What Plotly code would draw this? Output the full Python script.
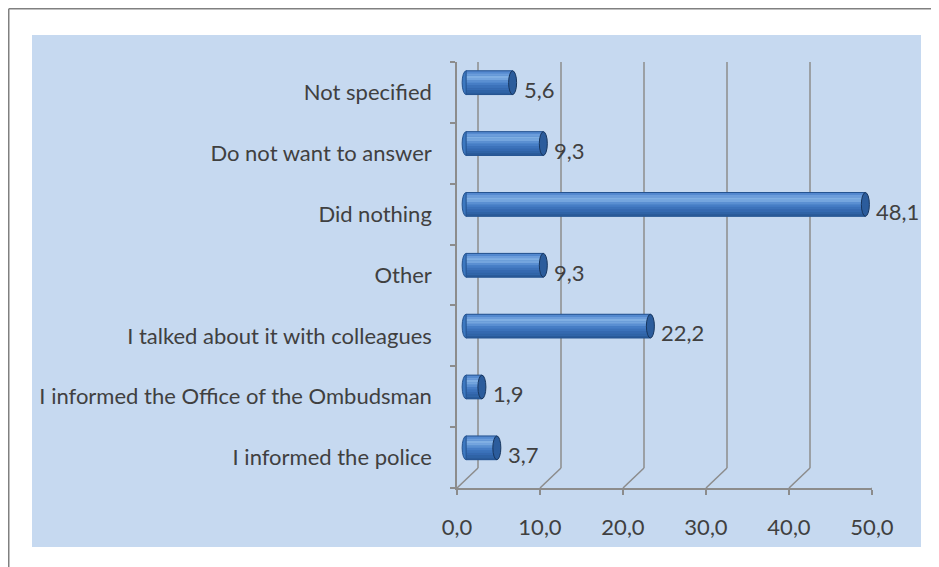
import plotly.graph_objects as go

# ---------------- data ----------------
categories = ["I informed the police",
              "I informed the Office of the Ombudsman",
              "I talked about it with colleagues",
              "Other",
              "Did nothing",
              "Do not want to answer",
              "Not specified"]
values = [3.7, 1.9, 22.2, 9.3, 48.1, 9.3, 5.6]
x_ticks = [0, 10, 20, 30, 40, 50]

# ---------------- geometry (px) ----------------
OFF = 8                     # page body margin of the html page
W, H = 939 - OFF, 567 - OFF
L, R, T, B = 457 - OFF, 67, 62 - OFF, 79
PW = W - L - R
PH = H - T - B
DX, DY = 21, 20             # depth offset of the back wall
BAR_SHIFT = 1.1             # bars sit at mid depth (x units)

TXT = "#404040"
GRID = "#8c8c8c"
FONT = "Lato"
FS = 22


def px_x(page_px):
    return (page_px - OFF - L) / PW


def px_y(page_py):
    return (H - B - (page_py - OFF)) / PH


fig = go.Figure()

# cylinder-like bars built from overlaid bands (bottom -> top)
BAR_O, BAR_W = -0.035, 0.39
band_colors = ["#2a5b9a", "#2f63a6", "#3569b0", "#3c72ba", "#467dc5",
               "#5a8fd2", "#74a5de", "#80afe3", "#6c9ddb", "#558ad0"]
band_w = BAR_W / len(band_colors)
fig.add_trace(go.Bar(
    x=values, y=categories, orientation="h", xaxis="x2", yaxis="y",
    offset=BAR_O, width=BAR_W, marker=dict(color="#3c78c0", line=dict(width=0)),
    hoverinfo="skip", showlegend=False))
for k, col in enumerate(band_colors):
    fig.add_trace(go.Bar(
        x=values, y=categories, orientation="h", xaxis="x2", yaxis="y",
        offset=BAR_O + k * band_w, width=band_w * 1.02,
        marker=dict(color=col, line=dict(width=0)),
        hoverinfo="skip", showlegend=False))
# outline
fig.add_trace(go.Bar(
    x=values, y=categories, orientation="h", xaxis="x2", yaxis="y",
    offset=BAR_O, width=BAR_W,
    marker=dict(color="rgba(0,0,0,0)", line=dict(color="#24528f", width=1)),
    hoverinfo="skip", showlegend=False))

shapes = []
# outer background panel and border
shapes.append(dict(type="rect", xref="paper", yref="paper", layer="below",
                   x0=px_x(32), x1=px_x(921), y0=px_y(547), y1=px_y(35),
                   fillcolor="#c6d9f0", line=dict(width=0)))
shapes.append(dict(type="line", xref="paper", yref="paper", layer="below",
                   x0=px_x(OFF + 0.75), x1=px_x(939), y0=px_y(OFF + 0.75),
                   y1=px_y(OFF + 0.75),
                   line=dict(color="#808080", width=1.5)))
shapes.append(dict(type="line", xref="paper", yref="paper", layer="below",
                   x0=px_x(OFF + 0.75), x1=px_x(OFF + 0.75),
                   y0=px_y(OFF + 0.75), y1=px_y(567),
                   line=dict(color="#808080", width=1.5)))

# floor diagonals + back wall vertical gridlines
for t in x_ticks:
    shapes.append(dict(type="line", xref="x", yref="y", layer="below",
                       xsizemode="pixel", ysizemode="pixel",
                       xanchor=t, yanchor=-0.5,
                       x0=0, x1=DX, y0=0, y1=DY,
                       line=dict(color=GRID, width=1.5)))
    shapes.append(dict(type="line", xref="x", yref="y", layer="below",
                       xsizemode="pixel", ysizemode="pixel",
                       xanchor=t, yanchor=-0.5,
                       x0=DX, x1=DX, y0=DY, y1=PH + 17,
                       line=dict(color=GRID, width=1.5)))
# top-left wall diagonal
shapes.append(dict(type="line", xref="x", yref="y", layer="below",
                   xsizemode="pixel", ysizemode="pixel",
                   xanchor=0, yanchor=len(categories) - 0.5,
                   x0=-5, x1=DX, y0=0, y1=17,
                   line=dict(color=GRID, width=1.5)))

# rounded ends of the cylinders
for i, v in enumerate(values):
    shapes.append(dict(type="circle", xref="x2", yref="y", layer="below",
                       xsizemode="pixel", xanchor=0, x0=-4, x1=4,
                       y0=i + BAR_O, y1=i + BAR_O + BAR_W,
                       fillcolor="#3c78c0", line=dict(color="#24528f", width=1)))
    shapes.append(dict(type="circle", xref="x2", yref="y", layer="above",
                       xsizemode="pixel", xanchor=v, x0=-4, x1=4,
                       y0=i + BAR_O, y1=i + BAR_O + BAR_W,
                       fillcolor="#2b5c9c", line=dict(color="#17365f", width=1)))

annotations = []
for c, v in zip(categories, values):
    annotations.append(dict(x=v, y=c, xref="x2", yref="y",
                            text=f"{v:.1f}".replace(".", ","),
                            showarrow=False, xanchor="left", yanchor="middle",
                            xshift=9, yshift=3,
                            font=dict(family=FONT, size=FS, color=TXT)))

fig.update_layout(
    width=W, height=H,
    margin=dict(l=L, r=R, t=T, b=B, pad=0),
    paper_bgcolor="white",
    plot_bgcolor="rgba(0,0,0,0)",
    separators=",.",
    barmode="overlay",
    showlegend=False,
    shapes=shapes,
    annotations=annotations,
    font=dict(family=FONT, size=FS, color=TXT),
    xaxis=dict(range=[0, 50], tickvals=x_ticks, tickformat=".1f",
               showgrid=False, zeroline=False, showline=True,
               linecolor=GRID, linewidth=1.5, ticks="outside", ticklen=5,
               tickcolor=GRID, tickwidth=1.5, ticklabelstandoff=14,
               tickfont=dict(family=FONT, size=FS, color=TXT)),
    xaxis2=dict(range=[-BAR_SHIFT, 50 - BAR_SHIFT], overlaying="x",
                visible=False, anchor="y"),
    yaxis=dict(range=[-0.5, len(categories) - 0.5], type="category",
               showgrid=False, zeroline=False, showline=True,
               linecolor=GRID, linewidth=1.5, ticks="outside", ticklen=5,
               tickson="boundaries", tickcolor=GRID, tickwidth=1.5,
               ticklabelstandoff=19,
               tickfont=dict(family=FONT, size=FS, color=TXT)),
)

fig.write_html("out.html")
